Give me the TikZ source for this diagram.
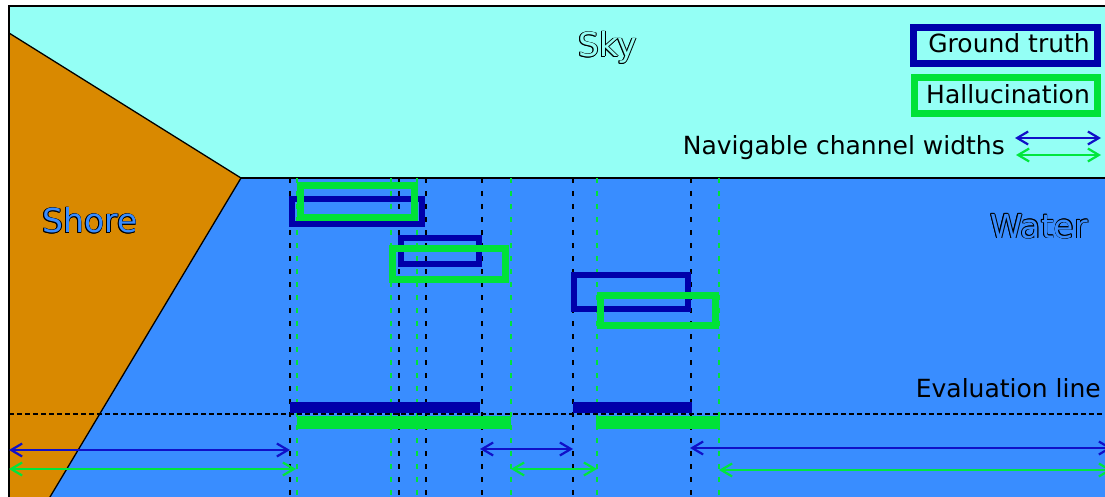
\documentclass[tikz,border=0pt]{standalone}
\usepackage{fontspec}
\setmainfont{DejaVu Sans}
\usetikzlibrary{arrows.meta}
\definecolor{skyc}{RGB}{148,255,245}
\definecolor{waterc}{RGB}{57,141,255}
\definecolor{shorec}{RGB}{217,137,0}
\definecolor{gtc}{RGB}{0,0,170}
\definecolor{hallc}{RGB}{0,226,56}
\definecolor{arrb}{RGB}{16,16,200}
\definecolor{arrg}{RGB}{0,230,60}
\begin{document}
\begin{tikzpicture}[x=1pt,y=-1pt,
  big/.style={font=\fontsize{33}{40}\selectfont, inner sep=0pt},
  small/.style={font=\fontsize{25}{30}\selectfont, inner sep=0pt},
  gtbox/.style={draw=gtc, line width=6pt},
  hbox/.style={draw=hallc, line width=7pt},
  legbox/.style={line width=7pt},
  gtdash/.style={black, line width=1.4pt, dash pattern=on 5pt off 8pt},
  hdash/.style={hallc, line width=1.4pt, dash pattern=on 5pt off 8pt},
  tip/.style={{Straight Barb[length=11pt,width=13pt,line width=2.2pt]}-{Straight Barb[length=11pt,width=13pt,line width=2.2pt]}},
  barrow/.style={arrb, line width=2pt, tip},
  garrow/.style={arrg, line width=1.8pt, tip},
  edge/.style={draw=black, line width=1.3pt},
]
\useasboundingbox (0,0) rectangle (1105,497);
\clip (0,0) rectangle (1105,497);
\fill[white] (0,0) rectangle (1105,497);
% regions
\fill[skyc] (9,6) rectangle (1112,178);
\fill[waterc] (9,178) rectangle (1112,505);
\filldraw[fill=shorec, edge] (9,33) -- (241,178) -- (45.2,505) -- (9,505) -- cycle;
\draw[edge] (241,178) -- (1112,178);
\draw[draw=black, line width=1.5pt] (9,505) -- (9,6) -- (1112,6);

% outlined region labels
\foreach \dx/\dy in {-0.8/0,0.8/0,0/-0.8,0/0.8,-0.6/-0.6,0.6/0.6,-0.6/0.6,0.6/-0.6}{
  \node[big, anchor=base, text=black, xshift=\dx pt, yshift=\dy pt] at (607.5,57) {Sky};
  \node[big, anchor=base west, text=black, xshift=\dx pt, yshift=\dy pt] at (42,233) {Shore};
  \node[big, anchor=base west, text=black, xshift=\dx pt, yshift=\dy pt] at (990,238) {Water};
}
\node[big, anchor=base, text=skyc] (sky) at (607.5,57) {Sky};
\node[big, anchor=base west, text=waterc] (shore) at (42,233) {Shore};
\node[big, anchor=base west, text=waterc] (water) at (990,238) {Water};

% legend
\draw[legbox, draw=gtc] (913.5,27.5) rectangle (1097.5,63.5);
\draw[legbox, draw=hallc] (914.5,77.5) rectangle (1097.5,113.5);
\node[small, anchor=base east] (gtlabel) at (1090,53) {Ground truth};
\node[small, anchor=base east] (hlabel) at (1090,104) {Hallucination};
\node[small, anchor=base east] (navlabel) at (1005,155) {Navigable channel widths};
\coordinate (lb1) at (1015,138); \coordinate (lb2) at (1101,138);
\coordinate (lg1) at (1016,155); \coordinate (lg2) at (1101,155);
\draw[barrow] (lb1) -- (lb2);
\draw[garrow] (lg1) -- (lg2);

% dashed verticals
\foreach \x [count=\i] in {290,399,426,482,573,691}{
  \coordinate (bt\i) at (\x,178); \coordinate (bb\i) at (\x,500);
  \draw[gtdash] (bt\i) -- (bb\i);
}
\foreach \x [count=\i] in {297,391,417,511,597,719}{
  \coordinate (gt\i) at (\x,178); \coordinate (gb\i) at (\x,500);
  \draw[hdash] (gt\i) -- (gb\i);
}

% boxes
\draw[gtbox] (292,199) rectangle (422,224);
\draw[gtbox] (401,238) rectangle (479,264);
\draw[gtbox] (574,275) rectangle (688,309);
\draw[hbox] (300.5,185.5) rectangle (414.5,217.5);
\draw[hbox] (392.5,248.5) rectangle (505.5,279.5);
\draw[hbox] (600.5,295.5) rectangle (715.5,325.5);

% bars on evaluation line
\fill[gtc] (290,402) rectangle (480,413);
\fill[gtc] (573,402) rectangle (692,413);
\fill[hallc] (297,416) rectangle (511,429);
\fill[hallc] (596,416) rectangle (720,429);
\coordinate (ev1) at (9,414); \coordinate (ev2) at (1112,414);
\draw[black, line width=2pt, dash pattern=on 5pt off 3pt] (ev1) -- (ev2);
\node[small, anchor=base east] (evlabel) at (1101,397) {Evaluation line};

% channel width arrows
\coordinate (a1) at (9,450); \coordinate (a2) at (290,450);
\coordinate (a3) at (480,449); \coordinate (a4) at (573,449);
\coordinate (a5) at (690,448); \coordinate (a6) at (1112,448);
\coordinate (c1) at (9,469); \coordinate (c2) at (296,469);
\coordinate (c3) at (511,469); \coordinate (c4) at (597,469);
\coordinate (c5) at (719,470); \coordinate (c6) at (1112,470);
\draw[barrow] (a1) -- (a2);
\draw[barrow] (a3) -- (a4);
\draw[barrow] (a5) -- (a6);
\draw[garrow] (c1) -- (c2);
\draw[garrow] (c3) -- (c4);
\draw[garrow] (c5) -- (c6);
\end{tikzpicture}
\end{document}
